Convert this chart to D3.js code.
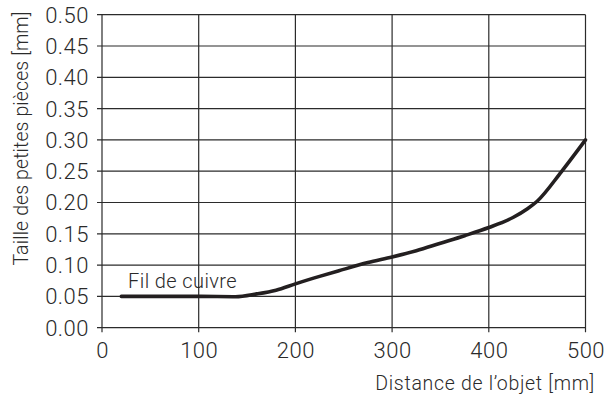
<!DOCTYPE html>
<html>
<head>
<meta charset="utf-8">
<script src="https://cdn.jsdelivr.net/npm/d3@7"></script>
<style>
  html, body { margin: 0; padding: 0; background: #fff; }
  svg text { font-family: "Roboto", "Liberation Sans", Arial, sans-serif; font-weight: 300; fill: #2a2a2a; }
</style>
</head>
<body>
<svg id="chart" width="608" height="398"></svg>
<script>
const xTicks = [0, 100, 200, 300, 400, 500];
const yTicks = [0, 0.05, 0.10, 0.15, 0.20, 0.25, 0.30, 0.35, 0.40, 0.45, 0.50];
const distance = [20, 60, 100, 138, 160, 180, 200, 225, 245, 275, 300, 325, 350, 375, 400, 425, 440, 450, 475, 500];
const size =     [0.05, 0.05, 0.05, 0.0495, 0.054, 0.06, 0.07, 0.082, 0.091, 0.104, 0.113, 0.123, 0.135, 0.147, 0.16, 0.176, 0.19, 0.202, 0.249, 0.30];
const seriesLabel = "Fil de cuivre";
const seriesLabelPos = [27, 0.064];
const xTitle = "Distance de l\u2019objet [mm]";
const yTitle = "Taille des petites pièces [mm]";

(function () {
const svg = d3.select("#chart");
const mLeft = 102, mRight = 585.5, mTop = 14.7, mBottom = 327.7;
const x = d3.scaleLinear().domain([0, 500]).range([mLeft, mRight]);
const y = d3.scaleLinear().domain([0, 0.5]).range([mBottom, mTop]);

// grid
const grid = svg.append("g").attr("stroke", "#2b2b2b").attr("stroke-width", 1.2);
grid.selectAll("line.h").data(yTicks).enter().append("line")
  .attr("x1", mLeft - 5).attr("x2", mRight)
  .attr("y1", d => y(d)).attr("y2", d => y(d));
grid.selectAll("line.v").data(xTicks).enter().append("line")
  .attr("x1", d => x(d)).attr("x2", d => x(d))
  .attr("y1", mTop).attr("y2", mBottom + 4.5);

// y tick labels
svg.append("g").selectAll("text").data(yTicks).enter().append("text")
  .attr("x", mLeft - 13).attr("y", d => y(d))
  .attr("dy", "0.36em")
  .attr("text-anchor", "end")
  .style("font-size", "22px").style("letter-spacing", "0.5px")
  .text(d => d3.format(".2f")(d));

// x tick labels
svg.append("g").selectAll("text").data(xTicks).enter().append("text")
  .attr("x", d => x(d) + 0.5).attr("y", 358)
  .attr("text-anchor", "middle")
  .style("font-size", "22px").style("letter-spacing", "0.5px")
  .text(d => d);

// line
const pts = distance.map((d, i) => [d, size[i]]);
svg.append("path")
  .datum(pts)
  .attr("fill", "none")
  .attr("stroke", "#231f20")
  .attr("stroke-width", 3.6)
  .attr("stroke-linecap", "round")
  .attr("stroke-linejoin", "round")
  .attr("d", d3.line().x(d => x(d[0])).y(d => y(d[1])).curve(d3.curveMonotoneX));

// series label
svg.append("text")
  .attr("x", x(seriesLabelPos[0])).attr("y", y(seriesLabelPos[1]))
  .style("font-size", "20px").style("letter-spacing", "0.4px")
  .text(seriesLabel);

// axis titles
svg.append("text")
  .attr("x", 595).attr("y", 390)
  .attr("text-anchor", "end")
  .style("font-size", "19.5px").style("letter-spacing", "0.7px")
  .text(xTitle);

svg.append("text")
  .attr("transform", "translate(27.5,138.5) rotate(-90)")
  .attr("text-anchor", "middle")
  .style("font-size", "19.5px").style("letter-spacing", "0.1px")
  .text(yTitle);
})();
</script>
</body>
</html>
